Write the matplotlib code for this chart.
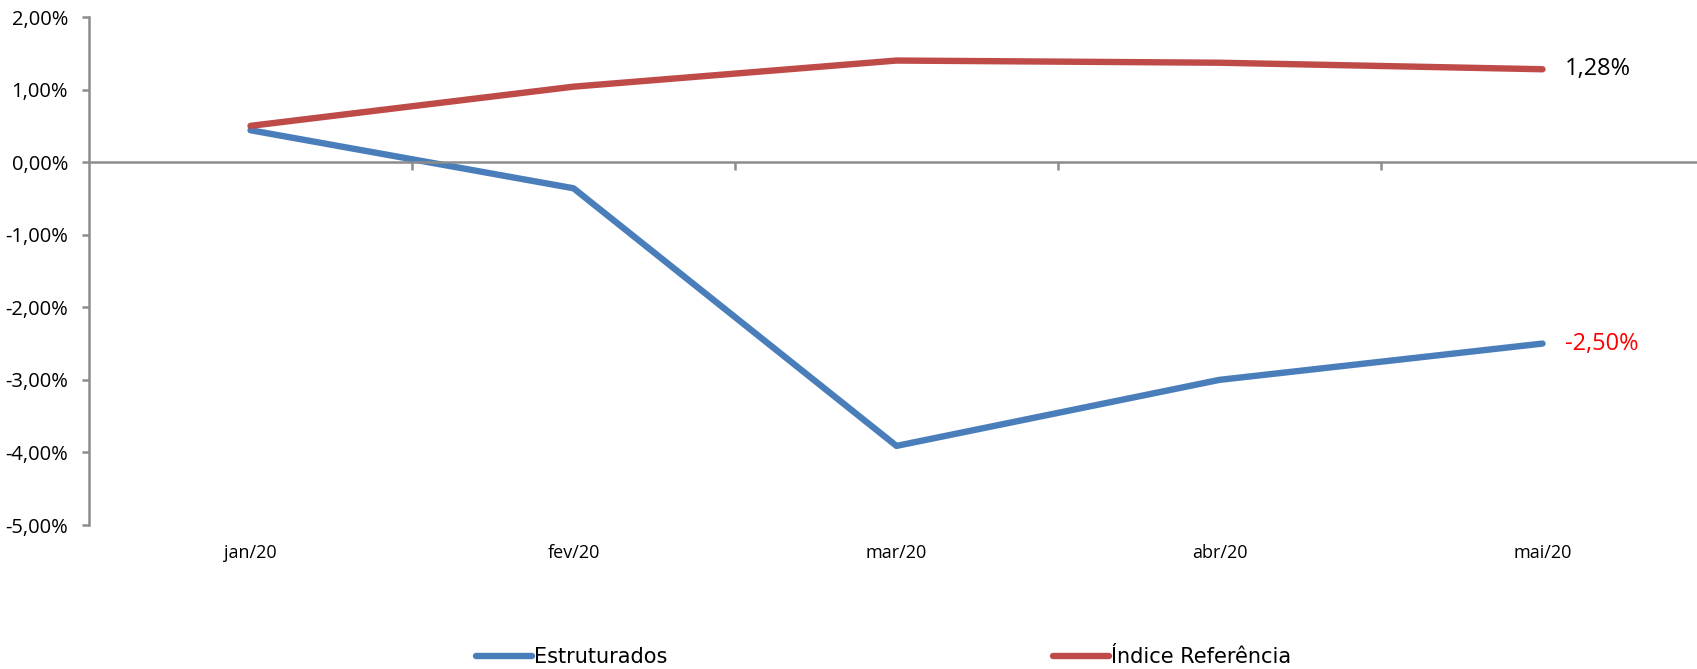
import matplotlib
matplotlib.use("Agg")
import matplotlib.pyplot as plt
import matplotlib.transforms as mtransforms
from matplotlib.ticker import FuncFormatter

months = ["jan/20", "fev/20", "mar/20", "abr/20", "mai/20"]
estruturados = [0.44, -0.36, -3.91, -3.00, -2.50]
indice_ref = [0.50, 1.04, 1.40, 1.37, 1.28]
series_names = ["Estruturados", "Índice Referência"]
end_labels = ["-2,50%", "1,28%"]
yticks = [2, 1, 0, -1, -2, -3, -4, -5]

BLUE = "#4A7EBB"
RED = "#BE4B48"
GRAY = "#8C8C8C"
FONT = ["Open Sans", "DejaVu Sans"]

W, H = 1697, 669
fig = plt.figure(figsize=(W / 100, H / 100), dpi=100)
ax = fig.add_axes([89 / W, (H - 525) / H, 1615 / W, 508 / H])

x = list(range(len(months)))
l1, = ax.plot(x, estruturados, color=BLUE, lw=4.6, solid_capstyle="round", label=series_names[0])
l2, = ax.plot(x, indice_ref, color=RED, lw=4.6, solid_capstyle="round", label=series_names[1])

ax.set_xlim(-0.5, len(months) - 0.5)
ax.set_ylim(-5, 2)

for s in ["top", "right"]:
    ax.spines[s].set_visible(False)
ax.spines["bottom"].set_position(("data", 0))
for s in ["left", "bottom"]:
    ax.spines[s].set_color(GRAY)
    ax.spines[s].set_linewidth(1.8)

ax.set_yticks(yticks)
ax.yaxis.set_major_formatter(FuncFormatter(lambda v, p: f"{v:.2f}%".replace(".", ",")))
ax.tick_params(axis="y", direction="out", length=5, width=1.8, color=GRAY,
               labelsize=14.5, pad=10, labelcolor="black")
for t in ax.get_yticklabels():
    t.set_fontfamily(FONT)

ax.set_xticks([i + 0.5 for i in range(len(months) - 1)])
ax.set_xticklabels([])
ax.tick_params(axis="x", direction="out", length=6, width=1.8, color=GRAY)

trans = mtransforms.blended_transform_factory(ax.transData, ax.transAxes)
for i, m in enumerate(months):
    ax.text(i, -0.055, m, transform=trans, ha="center", va="center",
            fontsize=13, family=FONT)

ax.annotate(end_labels[1], (x[-1], indice_ref[-1]), xytext=(16, 0), textcoords="offset points",
            ha="left", va="center", fontsize=17, color="black", family=FONT)
ax.annotate(end_labels[0], (x[-1], estruturados[-1]), xytext=(16, 0), textcoords="offset points",
            ha="left", va="center", fontsize=17, color="#FF0000", family=FONT)

leg = fig.legend(handles=[l1, l2], loc="center left", bbox_to_anchor=(476 / W, 12 / H),
                 ncol=2, frameon=False, borderpad=0, borderaxespad=0, handlelength=2.7,
                 handletextpad=0.1, columnspacing=18.5,
                 prop={"family": ["DejaVu Sans"], "size": 15})

fig.savefig("out.png", dpi=100, facecolor="white")
